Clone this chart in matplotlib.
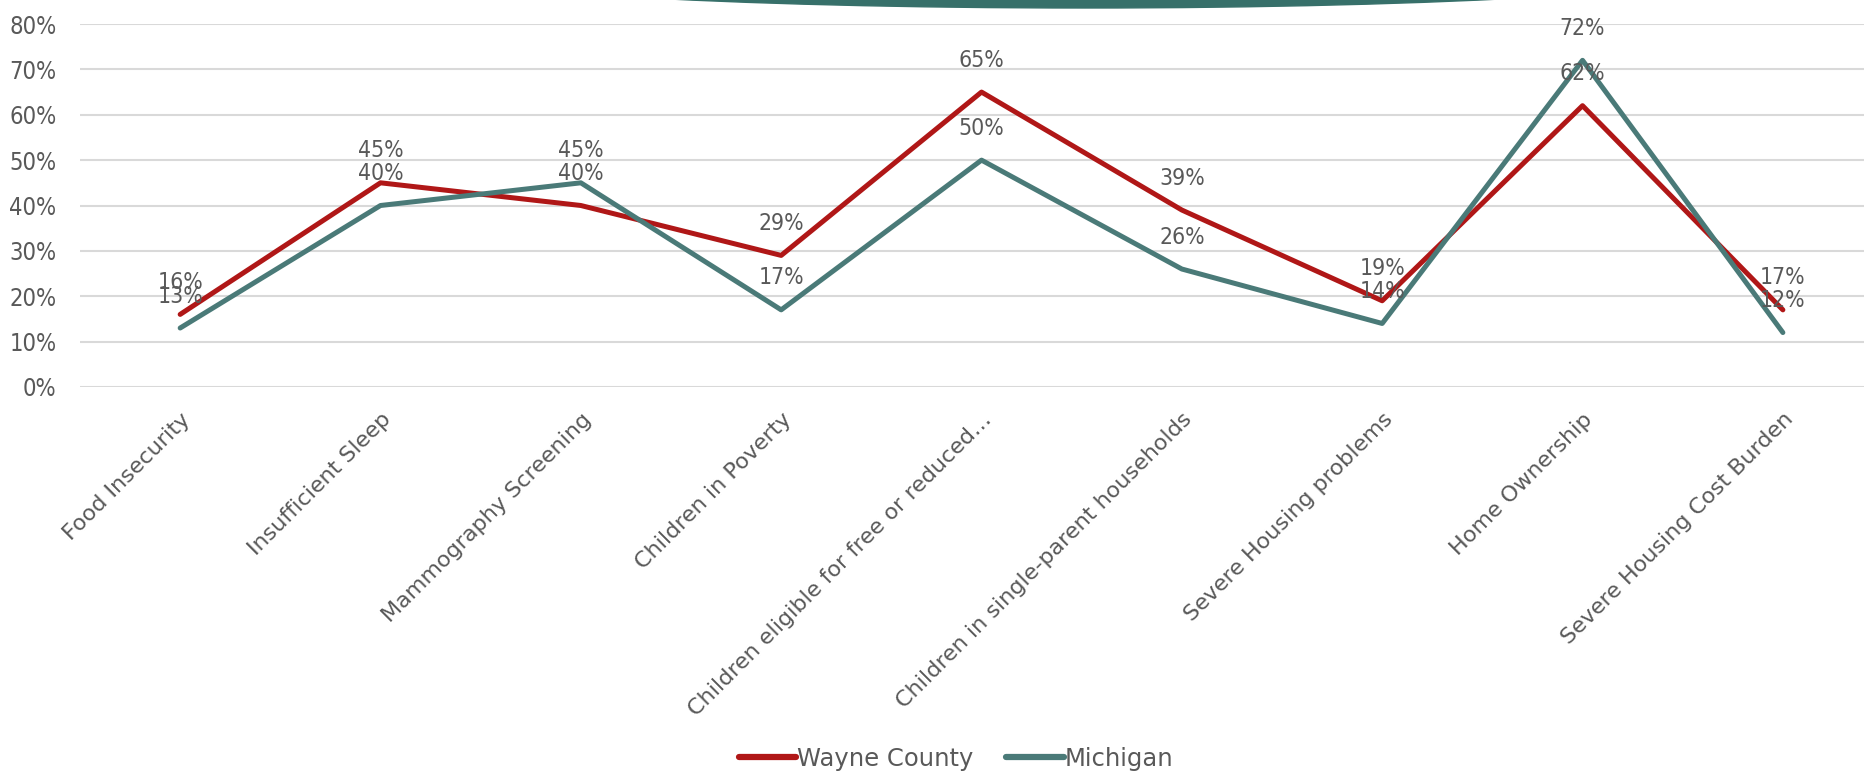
import matplotlib
matplotlib.use("Agg")
import matplotlib.pyplot as plt
from matplotlib.patches import Ellipse
from matplotlib.ticker import PercentFormatter

# ==========================================
# Données
# ==========================================
categories = ['Food Insecurity', 'Insufficient Sleep', 'Mammography Screening',
              'Children in Poverty', 'Children eligible for free or reduced…',
              'Children in single-parent households', 'Severe Housing problems',
              'Home Ownership', 'Severe Housing Cost Burden']
wayne = [0.16, 0.45, 0.40, 0.29, 0.65, 0.39, 0.19, 0.62, 0.17]
michigan = [0.13, 0.40, 0.45, 0.17, 0.50, 0.26, 0.14, 0.72, 0.12]
y_ticks = [0, 0.1, 0.2, 0.3, 0.4, 0.5, 0.6, 0.7, 0.8]

rouge = '#B01717'
vert = '#4A7A78'
gris = '#595959'

fig = plt.figure(figsize=(18.64, 7.72), dpi=100)
W, H = 1864, 772
ax = fig.add_axes([80 / W, (H - 387) / H, (W - 80) / W, (387 - 24) / H])

x = list(range(len(categories)))
ax.plot(x, wayne, color=rouge, lw=3.6, solid_capstyle='round', label='Wayne County', zorder=3)
ax.plot(x, michigan, color=vert, lw=3.6, solid_capstyle='round', label='Michigan', zorder=3)

# étiquettes de données au-dessus des points
for serie in (wayne, michigan):
    for i, v in enumerate(serie):
        ax.annotate(f'{round(v * 100)}%', (i, v), xytext=(0, 23), textcoords='offset points',
                    ha='center', va='center', fontsize=16.5, color=gris,
                    family='DejaVu Sans', fontstretch='condensed', zorder=4)

ax.set_xlim(-0.5, 8.405)
ax.set_ylim(0, 0.8)
ax.set_yticks(y_ticks)
ax.yaxis.set_major_formatter(PercentFormatter(1.0, decimals=0))
ax.grid(axis='y', color='#D9D9D9', lw=1.5)
ax.set_axisbelow(True)
for s in ax.spines.values():
    s.set_visible(False)
ax.tick_params(length=0)
ax.tick_params(axis='y', pad=17, labelsize=17, labelcolor=gris)
for lab in ax.get_yticklabels():
    lab.set_fontstretch('condensed')

ax.set_xticks(x)
ax.set_xticklabels(categories, rotation=45, ha='right', rotation_mode='anchor',
                   fontsize=16, color=gris)
ax.tick_params(axis='x', pad=16)

leg = fig.legend(loc='center', bbox_to_anchor=(956 / W, (H - 759) / H), ncol=2, frameon=False,
                 fontsize=17.5, handlelength=2.35, handletextpad=0.05, columnspacing=1.36)
for t in leg.get_texts():
    t.set_color(gris)
for h in leg.legend_handles:
    h.set_linewidth(4.5)

# forme décorative en haut
fig.add_artist(Ellipse((1085 / W, 1 + 32 / H), 1317 / W, 80 / H,
                       transform=fig.transFigure, color='#37706A', zorder=10))

fig.savefig('out.png', dpi=100)
plt.close('all')
